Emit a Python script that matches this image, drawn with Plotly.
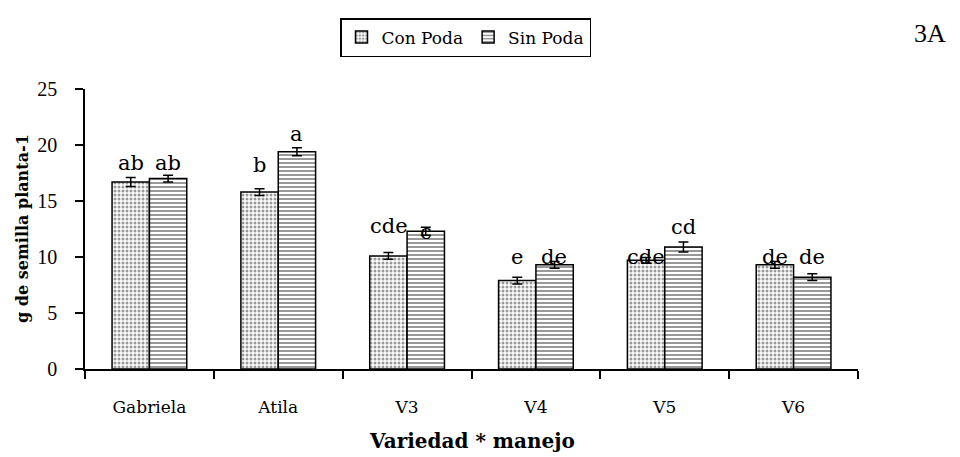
import plotly.graph_objects as go

categories = ["Gabriela", "Atila", "V3", "V4", "V5", "V6"]
con_poda = [16.7, 15.8, 10.1, 7.9, 9.7, 9.3]
sin_poda = [17.0, 19.4, 12.3, 9.3, 10.9, 8.2]
con_err = [0.4, 0.3, 0.3, 0.3, 0.25, 0.3]
sin_err = [0.3, 0.35, 0.35, 0.3, 0.45, 0.3]
con_letters = ["ab", "b", "cde", "e", "cde", "de"]
sin_letters = ["ab", "a", "c", "de", "cd", "de"]
con_letter_y = [18.4, 18.2, 12.8, 10.0, 10.0, 10.0]
sin_letter_y = [18.4, 21.0, 12.2, 10.0, 12.7, 10.0]
y_ticks = [0, 5, 10, 15, 20, 25]

TIMES = "Liberation Serif"
WIDE = "DejaVu Serif"

fig = go.Figure()
fig.add_trace(go.Bar(
    name="Con Poda", x=categories, y=con_poda,
    marker=dict(color="white", line=dict(color="black", width=1.5),
                pattern=dict(shape=".", fgcolor="#333333", bgcolor="white",
                             size=4, solidity=0.45)),
    error_y=dict(type="data", array=con_err, visible=True,
                 color="black", thickness=1.5, width=5),
))
fig.add_trace(go.Bar(
    name="Sin Poda", x=categories, y=sin_poda,
    marker=dict(color="white", line=dict(color="black", width=1.5),
                pattern=dict(shape="-", fgcolor="#333333", bgcolor="white",
                             size=4, solidity=0.5)),
    error_y=dict(type="data", array=sin_err, visible=True,
                 color="black", thickness=1.5, width=5),
))

annotations = []
for c, t, yv in zip(categories, con_letters, con_letter_y):
    annotations.append(dict(x=c, y=yv, xref="x", yref="y", text=t, showarrow=False,
                            xshift=-18.5, yanchor="middle",
                            font=dict(family=WIDE, size=21, color="black")))
for c, t, yv in zip(categories, sin_letters, sin_letter_y):
    annotations.append(dict(x=c, y=yv, xref="x", yref="y", text=t, showarrow=False,
                            xshift=18.5, yanchor="middle",
                            font=dict(family=WIDE, size=21, color="black")))

annotations.append(dict(x=(22 - 85) / 773, y=0.5, xref="paper", yref="paper",
                        xanchor="center", yanchor="middle",
                        text="<b>g de semilla planta-1</b>", textangle=-90,
                        showarrow=False, font=dict(family=WIDE, size=16, color="black")))
annotations.append(dict(x=0.5, y=(369 - 441) / 280, xref="paper", yref="paper",
                        xanchor="center", yanchor="middle",
                        text="<b>Variedad * manejo</b>",
                        showarrow=False, font=dict(family=WIDE, size=20, color="black")))
annotations.append(dict(x=(930 - 85) / 773, y=(369 - 33) / 280, xref="paper", yref="paper",
                        xanchor="center", yanchor="middle",
                        text="3A", showarrow=False,
                        font=dict(family=TIMES, size=26, color="black")))

fig.update_layout(
    width=960, height=457,
    margin=dict(l=85, r=102, t=89, b=88),
    paper_bgcolor="white", plot_bgcolor="white",
    barmode="group", bargap=0.42, bargroupgap=0,
    font=dict(family=WIDE, size=16, color="black"),
    showlegend=True,
    legend=dict(orientation="h", x=(340 - 85) / 773, xanchor="left",
                y=(369 - 18) / 280, yanchor="top",
                bordercolor="black", borderwidth=1.5,
                font=dict(family=WIDE, size=17, color="black"),
                itemwidth=30, tracegroupgap=0),
    annotations=annotations,
)
fig.update_xaxes(
    showline=True, linecolor="black", linewidth=1.5,
    ticks="outside", tickson="boundaries", ticklen=8, tickcolor="black", tickwidth=1.5,
    tickfont=dict(family=WIDE, size=17, color="black"),
    ticklabelstandoff=22, showgrid=False, zeroline=False,
)
fig.update_yaxes(
    range=[0, 25], tickvals=y_ticks, showline=True, linecolor="black", linewidth=1.5,
    ticks="outside", ticklen=8, tickcolor="black", tickwidth=1.5,
    tickfont=dict(family=TIMES, size=20, color="black"),
    ticklabelstandoff=14, showgrid=False, zeroline=False,
)

fig.write_html("out.html")
